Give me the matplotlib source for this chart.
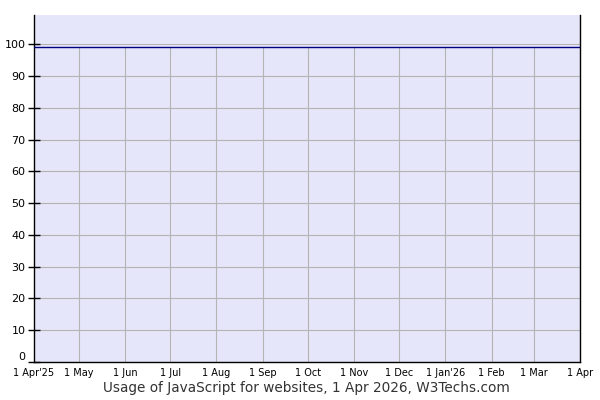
import datetime as dt
import matplotlib
matplotlib.use("Agg")
import matplotlib.pyplot as plt
import matplotlib.dates as mdates

# monthly usage of JavaScript (% of websites)
months = [dt.date(2025, m, 1) for m in range(4, 13)] + [dt.date(2026, m, 1) for m in range(1, 5)]
usage = [99.0, 99.0, 99.0, 99.0, 99.0, 99.0, 99.0, 99.0, 99.0, 99.0, 99.0, 99.0, 99.0]
tick_labels = ["1 Apr'25", "1 May", "1 Jun", "1 Jul", "1 Aug", "1 Sep", "1 Oct",
               "1 Nov", "1 Dec", "1 Jan'26", "1 Feb", "1 Mar", "1 Apr"]
y_ticks = list(range(0, 101, 10))

fig = plt.figure(figsize=(6, 4), dpi=100)
ax = fig.add_axes([34 / 600, 38 / 400, 546 / 600, 347 / 400])
ax.set_facecolor("#e6e6fa")

x = mdates.date2num(months)
ax.set_xlim(x[0], x[-1])
ax.set_ylim(0, 109.2)

# horizontal grid across, vertical grid only under the line
for yv in y_ticks:
    ax.axhline(yv, color="#b4b4b4", lw=0.8, zorder=1)
ax.vlines(x[1:-1], 0, usage[1:-1], color="#b4b4b4", lw=0.8, zorder=1)

ax.plot(x, usage, color="#000080", lw=1.0, zorder=3)

ax.set_xticks(x)
ax.set_xticklabels(tick_labels, fontsize=7)
ax.set_yticks(y_ticks)
ax.set_yticklabels([str(v) for v in y_ticks], fontsize=8)
ax.tick_params(axis="x", length=0, pad=4)
ax.tick_params(axis="y", direction="inout", length=8, width=1, pad=2)
# lift the "0" label a little so it clears the first date label
ax.get_yticklabels()[0].set_va("bottom")

ax.spines["top"].set_visible(False)
for s in ("left", "bottom", "right"):
    ax.spines[s].set_color("black")
    ax.spines[s].set_linewidth(1.0)

fig.text(306 / 600, 12 / 400, "Usage of JavaScript for websites, 1 Apr 2026, W3Techs.com",
         ha="center", va="center", fontsize=9.8, color="#333333")

fig.savefig("out.png", dpi=100)
